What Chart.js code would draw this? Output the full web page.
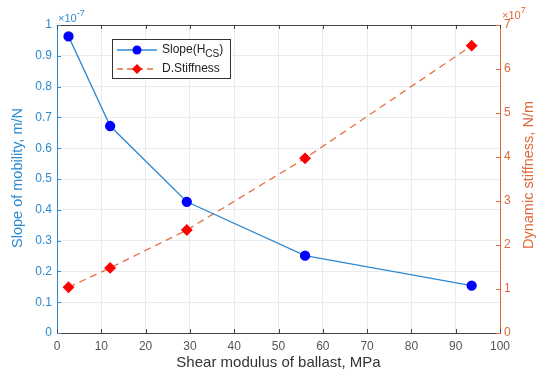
<!DOCTYPE html>
<html>
<head>
<meta charset="utf-8">
<script src="https://cdn.jsdelivr.net/npm/chart.js@4"></script>
<style>
  html, body { margin: 0; padding: 0; background: #fff; }
  #wrap { width: 537px; height: 376px; }
</style>
</head>
<body>
<div id="wrap"><canvas id="chart"></canvas></div>
<script>
// =======================
// Data
// =======================
const shearModulus = [2.6, 12.0, 29.3, 56.0, 93.6];           // MPa
const slopeMobility = [0.963e-7, 0.672e-7, 0.426e-7, 0.251e-7, 0.154e-7]; // m/N
const dynStiffness = [1.04e7, 1.48e7, 2.34e7, 3.97e7, 6.53e7];  // N/m
const xTicks = [0, 10, 20, 30, 40, 50, 60, 70, 80, 90, 100];

const blueAxis = '#2b8bd0';
const blueLine = '#2f8ad2';
const orangeAxis = '#e0693a';
const orangeLine = '#e8703d';
const FONT = 'Liberation Sans, Arial, sans-serif';

// small tidy-up for tick labels: 0.30000000004 -> 0.3
function fmt(v) {
    const r = Math.round(v * 10) / 10;
    return r === 0 ? '0' : String(r);
}

// rotated axis title, reading bottom to top (like MATLAB)
function sideTitle(ctx, text, x, y, color) {
    ctx.save();
    ctx.translate(x, y);
    ctx.rotate(-Math.PI / 2);
    ctx.fillStyle = color;
    ctx.font = '14.5px ' + FONT;
    ctx.textAlign = 'center';
    ctx.textBaseline = 'middle';
    ctx.fillText(text, 0, 0);
    ctx.restore();
}

// =======================
// MATLAB-ish decorations: box, inward ticks, exponents, legend, side titles
// =======================
const decorPlugin = {
    id: 'decor',
    afterDraw(chart) {
        const { ctx, chartArea: a, scales } = chart;
        ctx.save();
        // top box line
        ctx.strokeStyle = '#444';
        ctx.lineWidth = 1;
        ctx.beginPath();
        ctx.moveTo(a.left, a.top + 0.5);
        ctx.lineTo(a.right, a.top + 0.5);
        ctx.stroke();

        // inward ticks
        ctx.strokeStyle = blueAxis;
        scales.y.ticks.forEach(t => {
            const py = Math.round(scales.y.getPixelForValue(t.value)) + 0.5;
            ctx.beginPath(); ctx.moveTo(a.left, py); ctx.lineTo(a.left + 4, py); ctx.stroke();
        });
        ctx.strokeStyle = orangeAxis;
        scales.y2.ticks.forEach(t => {
            const py = Math.round(scales.y2.getPixelForValue(t.value)) + 0.5;
            ctx.beginPath(); ctx.moveTo(a.right, py); ctx.lineTo(a.right - 4, py); ctx.stroke();
        });
        ctx.strokeStyle = '#444';
        scales.x.ticks.forEach(t => {
            const px = Math.round(scales.x.getPixelForValue(t.value)) + 0.5;
            ctx.beginPath(); ctx.moveTo(px, a.bottom); ctx.lineTo(px, a.bottom - 4); ctx.stroke();
            ctx.beginPath(); ctx.moveTo(px, a.top); ctx.lineTo(px, a.top + 4); ctx.stroke();
        });

        // axis titles on both sides
        const midY = (a.top + a.bottom) / 2;
        sideTitle(ctx, 'Slope of mobility, m/N', 18, midY - 1, blueAxis);
        sideTitle(ctx, 'Dynamic stiffness, N/m', 529, midY - 4, orangeAxis);

        // exponent labels
        ctx.textBaseline = 'alphabetic';
        ctx.textAlign = 'left';
        ctx.fillStyle = blueAxis;
        ctx.font = '11px ' + FONT;
        ctx.fillText('\u00d710', a.left + 1, a.top - 3);
        let w = ctx.measureText('\u00d710').width;
        ctx.font = '9px ' + FONT;
        ctx.fillText('-7', a.left + 1 + w, a.top - 9);

        ctx.fillStyle = orangeAxis;
        ctx.font = '11px ' + FONT;
        ctx.fillText('\u00d710', a.right + 2, a.top - 6);
        w = ctx.measureText('\u00d710').width;
        ctx.font = '9px ' + FONT;
        ctx.fillText('7', a.right + 2 + w, a.top - 12);

        // legend box
        const lx = 112, ly = 39, lw = 118, lh = 39;
        ctx.fillStyle = '#fff';
        ctx.fillRect(lx, ly, lw, lh);
        ctx.strokeStyle = '#333';
        ctx.strokeRect(lx + 0.5, ly + 0.5, lw, lh);

        // row 1: slope
        const r1 = ly + 11, r2 = ly + 30;
        ctx.strokeStyle = blueLine;
        ctx.lineWidth = 1.3;
        ctx.setLineDash([]);
        ctx.beginPath(); ctx.moveTo(lx + 5, r1); ctx.lineTo(lx + 45, r1); ctx.stroke();
        ctx.fillStyle = '#0000ff';
        ctx.beginPath(); ctx.arc(lx + 25, r1, 4.5, 0, Math.PI * 2); ctx.fill();

        ctx.fillStyle = '#222';
        ctx.font = '12px ' + FONT;
        ctx.textBaseline = 'middle';
        let tx = lx + 50;
        ctx.fillText('Slope(H', tx, r1);
        tx += ctx.measureText('Slope(H').width;
        ctx.font = '10px ' + FONT;
        ctx.fillText('CS', tx, r1 + 4);
        tx += ctx.measureText('CS').width;
        ctx.font = '12px ' + FONT;
        ctx.fillText(')', tx, r1);

        // row 2: stiffness
        ctx.strokeStyle = orangeLine;
        ctx.setLineDash([6, 4]);
        ctx.beginPath(); ctx.moveTo(lx + 5, r2); ctx.lineTo(lx + 45, r2); ctx.stroke();
        ctx.setLineDash([]);
        ctx.fillStyle = '#ff0000';
        ctx.beginPath();
        ctx.moveTo(lx + 25, r2 - 5); ctx.lineTo(lx + 30, r2);
        ctx.lineTo(lx + 25, r2 + 5); ctx.lineTo(lx + 20, r2);
        ctx.closePath(); ctx.fill();
        ctx.fillStyle = '#222';
        ctx.fillText('D.Stiffness', lx + 50, r2);
        ctx.restore();
    }
};

// =======================
// Build the chart
// =======================
const ctx = document.getElementById('chart').getContext('2d');
new Chart(ctx, {
    type: 'line',
    data: {
        datasets: [{
            label: 'Slope(HCS)',
            data: shearModulus.map((x, i) => ({ x, y: slopeMobility[i] })),
            yAxisID: 'y',
            borderColor: blueLine,
            borderWidth: 1.3,
            backgroundColor: '#0000ff',
            pointBackgroundColor: '#0000ff',
            pointBorderColor: '#0000ff',
            pointRadius: 4.5,
            pointStyle: 'circle',
            tension: 0
        }, {
            label: 'D.Stiffness',
            data: shearModulus.map((x, i) => ({ x, y: dynStiffness[i] })),
            yAxisID: 'y2',
            borderColor: orangeLine,
            borderWidth: 1.3,
            borderDash: [7, 5],
            backgroundColor: '#ff0000',
            pointBackgroundColor: '#ff0000',
            pointBorderColor: '#ff0000',
            pointRadius: 5,
            pointStyle: 'rectRot',
            tension: 0
        }]
    },
    options: {
        responsive: true,
        maintainAspectRatio: false,
        animation: false,
        layout: { padding: { top: 25, left: 0, right: 0, bottom: 0 } },
        plugins: {
            legend: { display: false },
            tooltip: { enabled: false }
        },
        scales: {
            x: {
                type: 'linear',
                min: 0, max: 100,
                afterBuildTicks: s => { s.ticks = xTicks.map(v => ({ value: v })); },
                afterFit: s => { s.height = 43; },
                grid: { color: '#e8ecf0', drawTicks: false },
                border: { color: '#444' },
                ticks: { color: '#555', font: { family: FONT, size: 12 }, padding: 6 },
                title: {
                    display: true, text: 'Shear modulus of ballast, MPa',
                    color: '#333', font: { family: FONT, size: 15 }, padding: { top: 0 }
                }
            },
            y: {
                position: 'left',
                min: 0, max: 1e-7,
                afterFit: s => { s.width = 57; },
                grid: { color: '#e8ecf0', drawTicks: false },
                border: { color: blueAxis },
                ticks: {
                    stepSize: 1e-8,
                    color: blueAxis, font: { family: FONT, size: 12 }, padding: 5,
                    callback: v => fmt(v * 1e7)
                }
            },
            y2: {
                position: 'right',
                min: 0, max: 7e7,
                afterFit: s => { s.width = 37; },
                grid: { display: false, drawTicks: false },
                border: { color: orangeAxis },
                ticks: {
                    stepSize: 1e7,
                    color: orangeAxis, font: { family: FONT, size: 12 }, padding: 4,
                    callback: v => fmt(v / 1e7)
                }
            }
        }
    },
    plugins: [decorPlugin]
});
</script>
</body>
</html>
